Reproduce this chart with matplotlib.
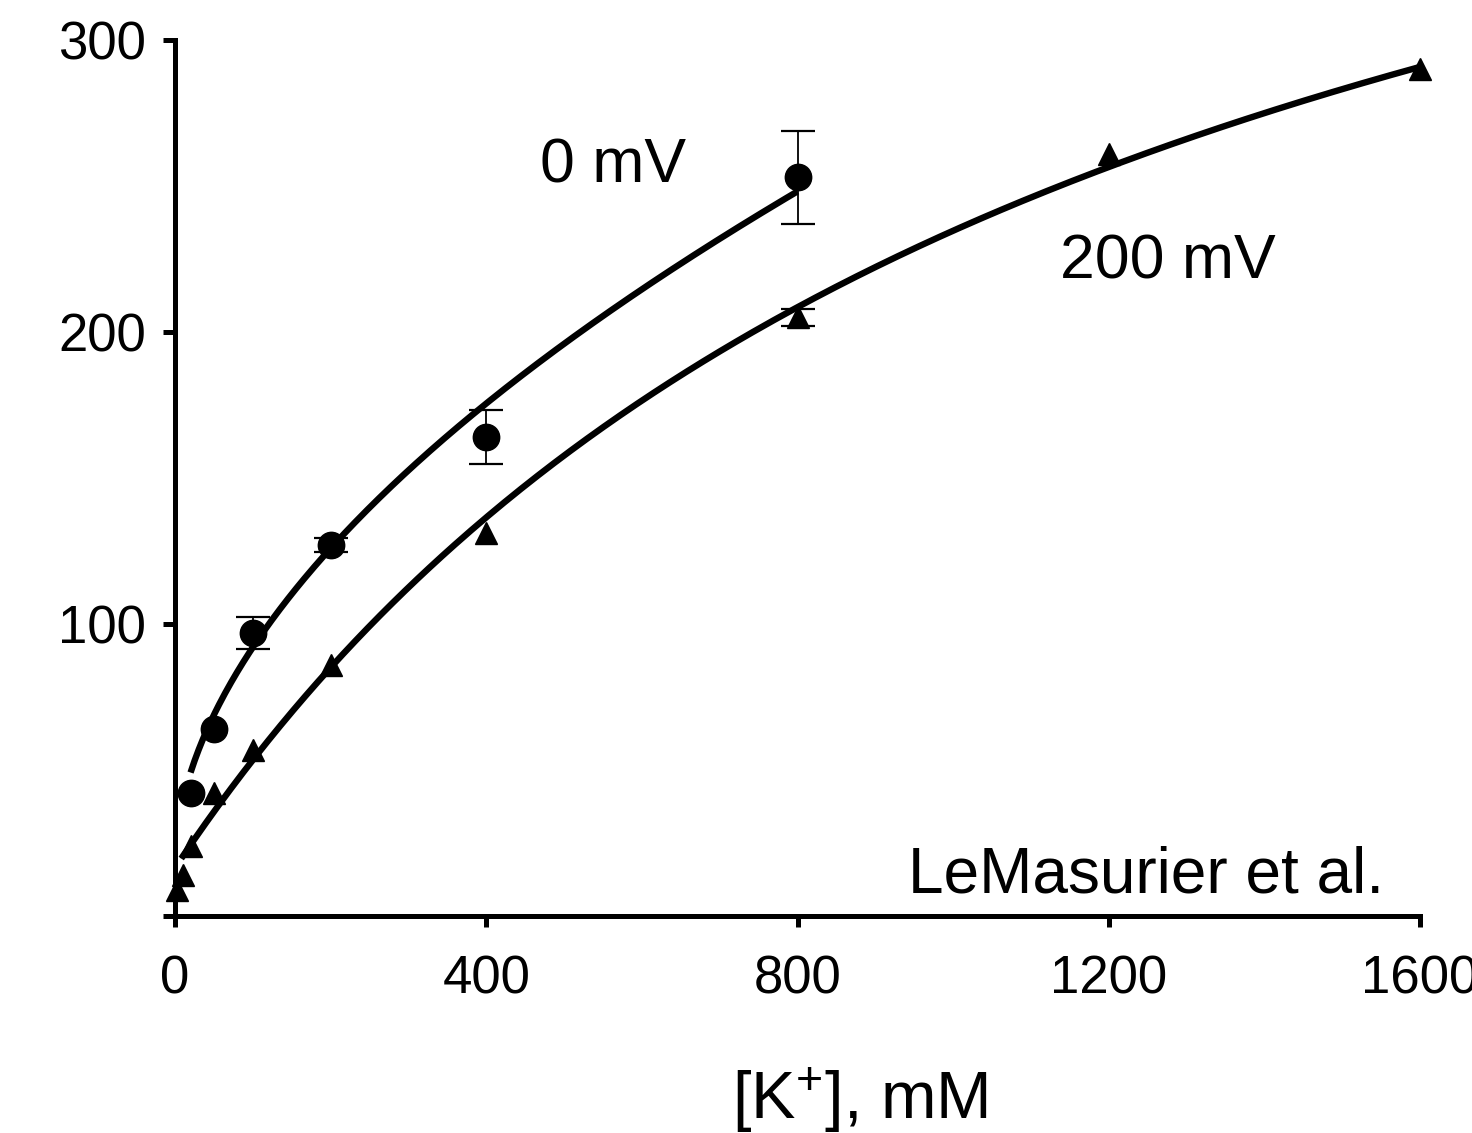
import numpy as np
import matplotlib
matplotlib.use("Agg")
import matplotlib.pyplot as plt

plt.rcParams['font.family'] = ['Liberation Sans', 'DejaVu Sans']
plt.rcParams['mathtext.default'] = 'regular'

# 0 mV data (circles)
k_0mv = [20, 50, 100, 200, 400, 800]
rate_0mv = [42, 64, 97, 127, 164, 253]
err_0mv = [0, 0, 5.5, 2.5, 9.3, 16]

# 200 mV data (triangles)
k_200mv = [2, 10, 20, 50, 100, 200, 400, 800, 1200, 1600]
rate_200mv = [9, 14, 24, 42, 57, 86, 131, 205, 261, 290]
err_200mv = [0, 0, 0, 0, 0, 0, 0, 3, 0, 0]

# fitted curves (parameters)
fit_0mv = {'a': 19.0, 'c': 5.8, 'n': 0.55, 'xmin': 20, 'xmax': 800}
fit_200mv = {'a': 16.5, 'vmax': 480.0, 'km': 1200.0, 'xmin': 8, 'xmax': 1600}

x_ticks = [0, 400, 800, 1200, 1600]
y_ticks = [0, 100, 200, 300]
y_ticklabels = ['', '100', '200', '300']

W, H = 1472, 1133
fig = plt.figure(figsize=(W / 100, H / 100), dpi=100)
ax = fig.add_axes([175 / W, 1 - 916 / H, 1245 / W, 876 / H])

# curves
xc0 = np.linspace(fit_0mv['xmin'], fit_0mv['xmax'], 300)
yc0 = fit_0mv['a'] + fit_0mv['c'] * xc0 ** fit_0mv['n']
xc2 = np.linspace(fit_200mv['xmin'], fit_200mv['xmax'], 300)
yc2 = fit_200mv['a'] + fit_200mv['vmax'] * xc2 / (fit_200mv['km'] + xc2)
ax.plot(xc0, yc0, color='black', lw=4.6, solid_capstyle='butt', clip_on=False)
ax.plot(xc2, yc2, color='black', lw=4.6, solid_capstyle='butt', clip_on=False)


def draw_series(x, y, err, marker, ms):
    x = np.asarray(x)
    y = np.asarray(y)
    err = np.asarray(err)
    has_err = err > 0
    ax.errorbar(x[has_err], y[has_err], yerr=err[has_err], fmt='none',
                ecolor='black', elinewidth=1.3, capsize=12, capthick=1.6,
                clip_on=False, zorder=2)
    ax.plot(x, y, linestyle='none', marker=marker, ms=ms, color='black',
            clip_on=False, zorder=3)


draw_series(k_0mv, rate_0mv, err_0mv, 'o', 19)
draw_series(k_200mv, rate_200mv, err_200mv, '^', 16)

ax.set_xlim(0, 1600)
ax.set_ylim(0, 300)
ax.set_xticks(x_ticks)
ax.set_xticklabels([str(v) for v in x_ticks])
ax.set_yticks(y_ticks)
ax.set_yticklabels(y_ticklabels)

for s in ['top', 'right']:
    ax.spines[s].set_visible(False)
for s in ['left', 'bottom']:
    ax.spines[s].set_linewidth(3.6)

ax.tick_params(axis='x', direction='out', length=8, width=3.6, pad=20, labelsize=38)
ax.tick_params(axis='y', direction='out', length=9, width=3.6, pad=12, labelsize=38)

# annotations
ax.text(469, 257, '0 mV', fontsize=45, ha='left', va='center')
ax.text(1137, 224, '200 mV', fontsize=45, ha='left', va='center')
ax.text(942, 8, 'LeMasurier et al.', fontsize=46, ha='left', va='baseline')

fig.text(860 / W, 1 - 1100 / H, '[K$^{+}$], mM', fontsize=48, ha='center', va='center')

fig.savefig('out.png', dpi=100, facecolor='white')
